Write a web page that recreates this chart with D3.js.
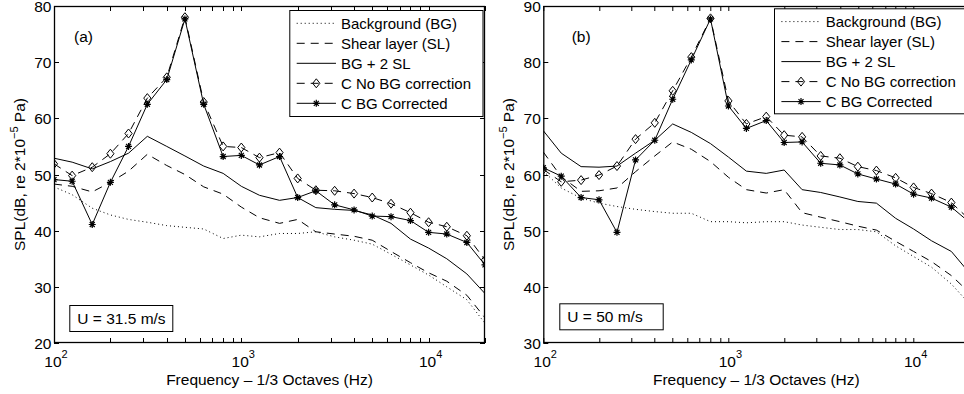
<!DOCTYPE html>
<html>
<head>
<meta charset="utf-8">
<script src="https://cdn.jsdelivr.net/npm/d3@7"></script>
<style>
  body { margin: 0; background: #fff; }
  svg { display: block; }
  text { font-family: "Liberation Sans", Arial, Helvetica, sans-serif; fill: #000; }
</style>
</head>
<body>
<svg id="chart" width="964" height="394"></svg>
<script>
// 1/3 octave band centre frequencies (Hz)
const freq = [100, 125, 160, 200, 250, 315, 400, 500, 630, 800, 1000, 1250, 1600,
  2000, 2500, 3150, 4000, 5000, 6300, 8000, 10000, 12500, 16000, 20000];

// panel (a), U = 31.5 m/s
const bgA = [47.8, 46.4, 44.0, 42.8, 42.0, 41.5, 40.9, 40.6, 40.3, 38.6, 39.2, 38.9, 39.5,
  39.5, 39.8, 38.9, 38.3, 37.6, 35.8, 33.9, 32.1, 30.0, 27.7, 23.5];
const slA = [48.3, 47.9, 46.9, 48.6, 50.6, 53.6, 51.6, 50.0, 47.8, 46.5, 44.2, 42.3, 41.3,
  42.0, 39.8, 39.4, 39.0, 38.3, 36.3, 34.3, 32.5, 31.0, 28.5, 24.5];
const bgSlA = [52.9, 52.2, 51.0, 52.3, 53.8, 56.8, 55.0, 53.3, 51.5, 50.2, 47.9, 46.3, 45.4,
  45.9, 44.1, 43.8, 43.6, 42.8, 41.3, 38.5, 36.9, 35.0, 32.3, 28.8];
const cNoBgA = [51.9, 49.8, 51.3, 53.7, 57.3, 63.6, 67.3, 78.0, 62.9, 55.0, 54.8, 53.0, 53.9,
  49.3, 47.2, 47.1, 46.6, 45.9, 44.8, 43.2, 41.5, 40.7, 39.1, 34.8];
const cBgA = [49.1, 48.8, 41.1, 48.6, 55.0, 62.5, 66.9, 77.7, 62.5, 53.2, 53.4, 51.7, 53.2,
  45.9, 47.1, 44.6, 43.7, 42.6, 42.5, 41.8, 39.7, 39.4, 37.9, 33.9];

// panel (b), U = 50 m/s
const bgB = [60.6, 57.6, 55.8, 54.9, 54.3, 53.8, 53.4, 53.1, 53.1, 51.6, 51.6, 51.4, 51.6,
  51.6, 51.0, 50.6, 50.2, 50.2, 49.8, 47.3, 45.4, 43.5, 40.5, 37.0];
const slB = [64.0, 59.6, 57.0, 57.1, 57.6, 60.5, 63.3, 65.8, 64.5, 62.3, 59.5, 57.3, 56.7,
  57.3, 53.2, 52.4, 51.6, 50.8, 50.1, 48.1, 46.3, 44.5, 42.0, 39.0];
const bgSlB = [67.8, 63.8, 61.4, 61.3, 61.5, 63.8, 66.1, 69.0, 67.5, 65.5, 63.1, 60.6, 60.2,
  60.8, 57.3, 56.8, 56.0, 55.2, 54.9, 52.2, 50.3, 48.2, 46.3, 42.5];
const cNoBgB = [60.9, 58.7, 59.0, 59.9, 61.5, 66.3, 69.2, 74.9, 80.9, 87.8, 73.1, 69.0, 70.3,
  67.0, 66.7, 63.3, 62.9, 61.4, 60.7, 59.4, 57.7, 56.6, 55.0, 52.0];
const cBgB = [61.2, 59.7, 55.9, 55.5, 49.7, 62.6, 66.1, 73.4, 80.4, 87.7, 72.2, 68.2, 69.6,
  65.7, 65.8, 62.0, 61.7, 60.1, 59.2, 58.3, 56.5, 55.8, 54.2, 51.5];

const legendLabels = ['Background (BG)', 'Shear layer (SL)', 'BG + 2 SL',
  'C No BG correction', 'C BG Corrected'];
const yTicksA = [20, 30, 40, 50, 60, 70, 80];
const yTicksB = [30, 40, 50, 60, 70, 80, 90];
const xDecades = [2, 3, 4];

const styles = [
  { dash: '1,3', marker: null },
  { dash: '8,6', marker: null },
  { dash: null, marker: null },
  { dash: '8,6', marker: 'diamond' },
  { dash: null, marker: 'star' }
];

const panels = [
  { left: 54, top: 6, width: 431, height: 337, yDomain: [20, 80], yTicks: yTicksA,
    tag: '(a)', tagX: 74, note: 'U = 31.5 m/s', noteBox: [69.3, 305, 103, 26],
    legend: [289.3, 10, 193.2, 106], series: [bgA, slA, bgSlA, cNoBgA, cBgA] },
  { left: 543.3, top: 6, width: 426, height: 337, yDomain: [30, 90], yTicks: yTicksB,
    tag: '(b)', tagX: 571.7, note: 'U = 50 m/s', noteBox: [559.3, 303.3, 103.4, 26],
    legend: [774, 8.3, 200, 105], series: [bgB, slB, bgSlB, cNoBgB, cBgB] }
];

const FS = '15.5px';
const svg = d3.select('#chart');

function drawMarker(g, type) {
  if (type === 'diamond') {
    g.append('path').attr('d', 'M0,-4.5L3.6,0L0,4.5L-3.6,0Z')
      .attr('fill', 'none').attr('stroke', '#000').attr('stroke-width', 1);
  } else if (type === 'star') {
    g.append('path').attr('d', 'M-3.5,0H3.5M0,-3.5V3.5M-2.5,-2.5L2.5,2.5M-2.5,2.5L2.5,-2.5')
      .attr('fill', 'none').attr('stroke', '#000').attr('stroke-width', 1.2);
  }
}

panels.forEach((p, pi) => {
  const x = d3.scaleLog().domain([100, 20000]).range([0, p.width]);
  const y = d3.scaleLinear().domain(p.yDomain).range([p.height, 0]);

  const g = svg.append('g').attr('transform', `translate(${p.left},${p.top})`);

  const clipId = 'clip' + pi;
  svg.append('clipPath').attr('id', clipId)
    .append('rect').attr('width', p.width).attr('height', p.height);

  // ticks (inside, all four sides)
  const tl = 5;
  const minor = [];
  [100, 1000, 10000].forEach(d => { for (let k = 2; k <= 9; k++) if (d * k <= 20000) minor.push(d * k); });
  const major = xDecades.map(e => Math.pow(10, e));
  const tickG = g.append('g').attr('stroke', '#000').attr('stroke-width', 1);
  major.concat(minor).forEach(f => {
    const xx = Math.round(x(f)) + 0.5;
    tickG.append('line').attr('x1', xx).attr('x2', xx).attr('y1', p.height).attr('y2', p.height - tl);
    tickG.append('line').attr('x1', xx).attr('x2', xx).attr('y1', 0).attr('y2', tl);
  });
  p.yTicks.forEach(t => {
    const yy = Math.round(y(t)) + 0.5;
    tickG.append('line').attr('x1', 0).attr('x2', tl).attr('y1', yy).attr('y2', yy);
    tickG.append('line').attr('x1', p.width).attr('x2', p.width - tl).attr('y1', yy).attr('y2', yy);
  });

  // y tick labels
  g.append('g').selectAll('text').data(p.yTicks).enter().append('text')
    .attr('x', -2.5).attr('y', d => y(d) + 6)
    .attr('text-anchor', 'end').style('font-size', FS)
    .text(d => d);

  // x tick labels 10^n
  const xl = g.append('g').selectAll('text').data(xDecades).enter().append('text')
    .attr('x', d => x(Math.pow(10, d)) + 2).attr('y', p.height + 24)
    .attr('text-anchor', 'middle').style('font-size', FS);
  xl.append('tspan').text('10');
  xl.append('tspan').attr('dy', -9).style('font-size', '11px').text(d => d);

  // axis labels
  g.append('text').attr('x', p.width / 2).attr('y', p.height + 41.5)
    .attr('text-anchor', 'middle').style('font-size', FS)
    .text('Frequency \u2013 1/3 Octaves (Hz)');
  const yl = g.append('text')
    .attr('transform', `translate(-29,${p.height / 2}) rotate(-90)`)
    .attr('text-anchor', 'middle').style('font-size', FS);
  yl.append('tspan').text('SPL(dB, re 2*10');
  yl.append('tspan').attr('dy', -7).style('font-size', '11px').text('\u22125');
  yl.append('tspan').attr('dy', 7).text(' Pa)');

  // series (lines and markers clipped to the axes box)
  const line = d3.line()
    .defined(d => d.v !== null)
    .x(d => x(d.f)).y(d => y(d.v));
  const plot = g.append('g').attr('clip-path', `url(#${clipId})`);

  p.series.forEach((vals, si) => {
    const st = styles[si];
    const data = freq.map((f, i) => ({ f, v: vals[i] }));
    plot.append('path').datum(data)
      .attr('d', line)
      .attr('fill', 'none').attr('stroke', '#000').attr('stroke-width', 1)
      .attr('stroke-dasharray', st.dash);
    if (st.marker) {
      plot.append('g').selectAll('g').data(data.filter(d => d.v !== null)).enter().append('g')
        .attr('transform', d => `translate(${x(d.f)},${y(d.v)})`)
        .each(function () { drawMarker(d3.select(this), st.marker); });
    }
  });

  // frame
  g.append('rect').attr('x', 0.5).attr('y', 0.5)
    .attr('width', p.width - 1).attr('height', p.height - 1)
    .attr('fill', 'none').attr('stroke', '#000').attr('stroke-width', 1.3);

  // panel tag
  svg.append('text').attr('x', p.tagX).attr('y', 41.5).style('font-size', FS).text(p.tag);

  // speed note
  const nb = p.noteBox;
  svg.append('rect').attr('x', nb[0] + 0.5).attr('y', nb[1] + 0.5).attr('width', nb[2]).attr('height', nb[3])
    .attr('fill', '#fff').attr('stroke', '#000').attr('stroke-width', 1);
  svg.append('text').attr('x', nb[0] + 8).attr('y', nb[1] + 18.5).style('font-size', FS).text(p.note);

  // legend
  const lg = p.legend;
  const L = svg.append('g').attr('transform', `translate(${lg[0]},${lg[1]})`);
  L.append('rect').attr('x', 0.5).attr('y', 0.5).attr('width', lg[2]).attr('height', lg[3])
    .attr('fill', '#fff').attr('stroke', '#000').attr('stroke-width', 1);
  legendLabels.forEach((lab, i) => {
    const cy = 13.3 + i * 20;
    const st = styles[i];
    L.append('line').attr('x1', 7.4).attr('x2', 46.7).attr('y1', cy).attr('y2', cy)
      .attr('stroke', '#000').attr('stroke-width', 1).attr('stroke-dasharray', st.dash);
    if (st.marker) drawMarker(L.append('g').attr('transform', `translate(27,${cy})`), st.marker);
    L.append('text').attr('x', 51.7).attr('y', cy + 5.5).style('font-size', '15px').text(lab);
  });
});
</script>
</body>
</html>
